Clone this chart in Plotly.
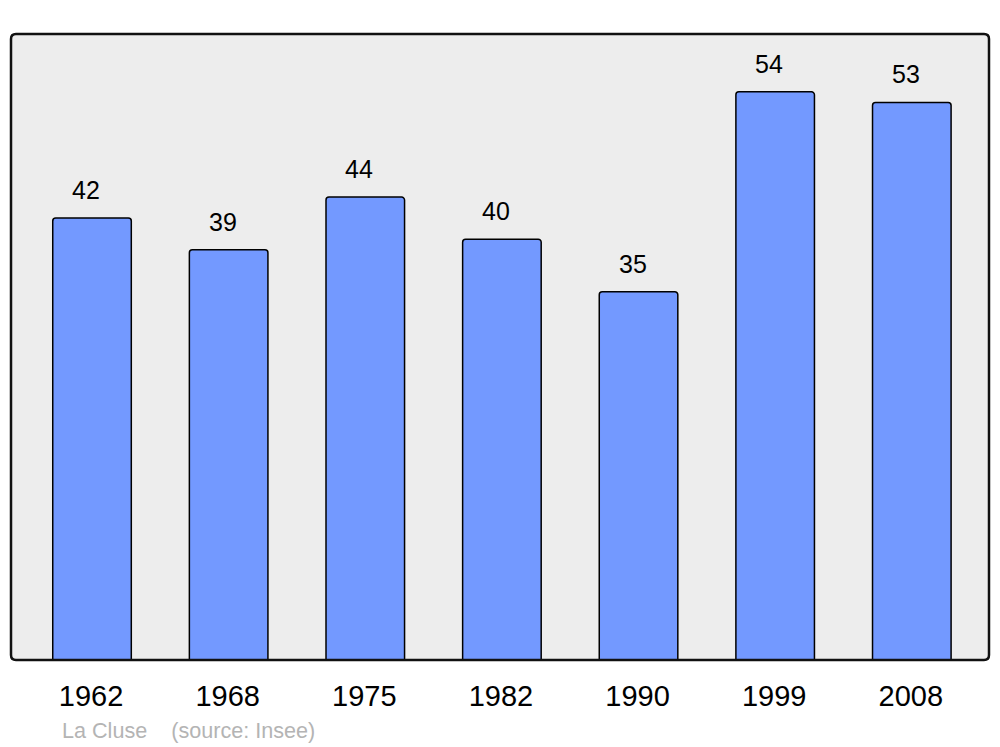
import plotly.graph_objects as go

years = ["1962", "1968", "1975", "1982", "1990", "1999", "2008"]
population = [42, 39, 44, 40, 35, 54, 53]
caption = "La Cluse &nbsp;&nbsp;&nbsp;(source: Insee)"

W, H = 1000, 747
ml, mr, mt, mb = 11, 11, 34, 87
pw, ph = W - ml - mr, H - mt - mb

fig = go.Figure()
fig.add_trace(go.Bar(
    x=list(range(len(years))), y=population,
    width=0.575,
    marker=dict(color="#7399ff", line=dict(color="#000000", width=1.5), cornerradius=3),
    hoverinfo="skip",
))

for i, v in enumerate(population):
    fig.add_annotation(x=i, y=v, text=str(v), showarrow=False, xshift=-6, yshift=28,
                       yanchor="middle", font=dict(family="Liberation Sans", size=25, color="#000"))

fig.add_annotation(xref="paper", yref="paper", x=(60 - ml) / pw, y=0, yshift=-70,
                   xanchor="left", yanchor="middle", text=caption, showarrow=False,
                   font=dict(family="Liberation Sans", size=21.6, color="#b4b4b4"))

# rounded frame
rx, ry = 5 / pw, 5 / ph
path = (f"M {rx},0 L {1-rx},0 Q 1,0 1,{ry} L 1,{1-ry} Q 1,1 {1-rx},1 "
        f"L {rx},1 Q 0,1 0,{1-ry} L 0,{ry} Q 0,0 {rx},0 Z")
fig.add_shape(type="path", xref="paper", yref="paper", path=path,
              line=dict(color="#111111", width=2.5), layer="above")

fig.update_layout(
    width=W, height=H,
    margin=dict(l=ml, r=mr, t=mt, b=mb),
    paper_bgcolor="#ffffff", plot_bgcolor="#ededed",
    showlegend=False,
    xaxis=dict(range=[-0.593, 6.565], tickmode="array", tickvals=list(range(len(years))),
               ticktext=years, showgrid=False, zeroline=False, ticks="", ticklabelstandoff=16,
               ticklabelshift=-1,
               tickfont=dict(family="Liberation Sans", size=29, color="#000")),
    yaxis=dict(range=[0, 59.5], showgrid=False, zeroline=False, showticklabels=False),
)

fig.write_html("out.html", config={"displayModeBar": False},
               post_script="document.body.style.margin='0';document.body.style.overflow='hidden';")
